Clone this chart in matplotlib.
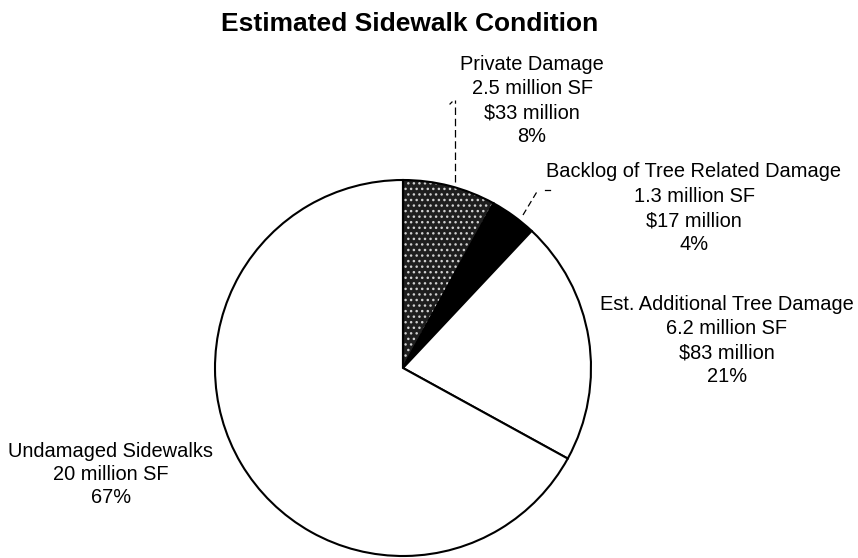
import matplotlib.pyplot as plt
from matplotlib.patches import Wedge

plt.rcParams['font.family'] = ['Liberation Sans', 'DejaVu Sans']
plt.rcParams['hatch.linewidth'] = 1.0

# slice data, clockwise from 12 o'clock
shares = [8, 4, 21, 67]
names = ['Private Damage', 'Backlog of Tree Related Damage',
         'Est. Additional Tree Damage', 'Undamaged Sidewalks']
areas = ['2.5 million SF', '1.3 million SF', '6.2 million SF', '20 million SF']
costs = ['$33 million', '$17 million', '$83 million', None]
fills = ['#1e1e1e', 'black', 'white', 'white']

H = 558  # canvas height in px, used to flip y


def label_lines(i):
	parts = [names[i], areas[i]]
	if costs[i]:
		parts.append(costs[i])
	parts.append('{}%'.format(shares[i]))
	return parts


fig = plt.figure(figsize=(8.58, 5.58), dpi=100)
ax = fig.add_axes([0, 0, 1, 1])

wedges, _ = ax.pie(shares, colors=fills, startangle=90, counterclock=False,
				   center=(403, H - 368), radius=188, frame=True,
				   wedgeprops=dict(edgecolor='black', linewidth=1.5))

# stippled texture on the private damage slice
w = wedges[0]
w.set_edgecolor('#d0d0d0')
w.set_linewidth(0.0)
w.set_hatch('...')
outline = Wedge(w.center, w.r, w.theta1, w.theta2, fill=False,
				edgecolor='black', linewidth=1.5, zorder=w.get_zorder() + 1)
ax.add_patch(outline)

ax.set_xlim(0, 858)
ax.set_ylim(0, H)
ax.set_aspect('auto')
ax.axis('off')

ax.text(410, H - 31, 'Estimated Sidewalk Condition', ha='center',
		va='baseline', fontsize=19, fontweight='bold')

# label centre x, first baseline y and line step, in px
lab_pos = [(532, 70, 24), (694, 177, 24.5), (727, 310, 24), (111, 457, 23)]
for i, (x, y, step) in enumerate(lab_pos):
	for k, line in enumerate(label_lines(i)):
		ax.text(x, H - (y + k * step), line, ha='center', va='baseline',
				fontsize=14.4)

# leader lines
ax.plot([455, 455], [H - 182, H - 100], color='black', lw=0.9, ls=(0, (6, 3)))
ax.plot([450, 452], [H - 104, H - 102], color='black', lw=0.9)
ax.plot([523, 538], [H - 215, H - 190], color='black', lw=0.9, ls=(0, (5, 3)))
ax.plot([545, 550], [H - 190, H - 190], color='black', lw=0.9)

fig.savefig('out.png', dpi=100)
